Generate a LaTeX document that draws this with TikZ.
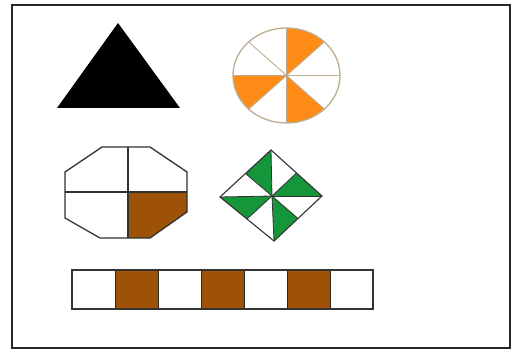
\documentclass[tikz,border=0pt]{standalone}
\usetikzlibrary{calc}
\definecolor{myorange}{RGB}{255,140,22}
\definecolor{mybrown}{RGB}{158,82,8}
\definecolor{mygreen}{RGB}{22,150,58}
\definecolor{myrim}{RGB}{190,172,145}
\definecolor{myline}{RGB}{50,50,50}
\tikzset{
  shapeline/.style={draw=myline,line width=1.3pt,line join=miter},
  thinline/.style={draw=myline,line width=0.9pt}
}
\begin{document}
\begin{tikzpicture}[x=1pt,y=1pt]
\useasboundingbox (0,0) rectangle (515,349);
\fill[white] (0,0) rectangle (515,349);
% frame
\draw[line width=1.3pt,draw=black!85] (12,1) rectangle (510,344);
% triangle
\fill[black] (118,326) -- (180,241) -- (57,241) -- cycle;
% circle
\coordinate (cc) at (286.5,273.5);
\fill[myorange] (cc) -- ++(45:53.5 and 47.5) arc[start angle=45,end angle=90,x radius=53.5,y radius=47.5] -- cycle;
\fill[myorange] (cc) -- ++(180:53.5 and 47.5) arc[start angle=180,end angle=225,x radius=53.5,y radius=47.5] -- cycle;
\fill[myorange] (cc) -- ++(270:53.5 and 47.5) arc[start angle=270,end angle=315,x radius=53.5,y radius=47.5] -- cycle;
\foreach \a in {0,45,90,135}{
  \draw[myrim,line width=0.9pt] ($(cc)+(\a:53.5 and 47.5)$) -- ($(cc)+(\a+180:53.5 and 47.5)$);
}
\draw[myrim,line width=1.3pt] (cc) ellipse[x radius=53.5,y radius=47.5];
% octagon
\fill[mybrown] (128,157) -- (187,157) -- (187,137) -- (150,111) -- (128,111) -- cycle;
\draw[thinline,line width=1.1pt] (128,202) -- (128,111);
\draw[thinline,line width=1.1pt] (65,157) -- (187,157);
\draw[shapeline] (102,202) -- (150,202) -- (187,177) -- (187,137) -- (150,111) -- (100,111) -- (65,131) -- (65,177) -- cycle;
% diamond
\coordinate (dT) at (271,199);
\coordinate (dR) at (322,153);
\coordinate (dB) at (274,108);
\coordinate (dL) at (220,152);
\coordinate (dC) at (272,153);
\coordinate (mTR) at ($(dT)!0.5!(dR)$);
\coordinate (mBR) at ($(dR)!0.5!(dB)$);
\coordinate (mBL) at ($(dB)!0.5!(dL)$);
\coordinate (mTL) at ($(dL)!0.5!(dT)$);
\fill[mygreen] (dC) -- (mTL) -- (dT) -- cycle;
\fill[mygreen] (dC) -- (mTR) -- (dR) -- cycle;
\fill[mygreen] (dC) -- (mBR) -- (dB) -- cycle;
\fill[mygreen] (dC) -- (mBL) -- (dL) -- cycle;
\foreach \p in {dT,dR,dB,dL,mTR,mBR,mBL,mTL}{
  \draw[thinline,line width=0.8pt] (dC) -- (\p);
}
\draw[shapeline,line width=1.1pt] (dT) -- (dR) -- (dB) -- (dL) -- cycle;
% bar
\foreach \i in {1,3,5}{
  \fill[mybrown] (72+\i*43,40) rectangle (72+\i*43+43,79);
}
\foreach \i in {1,...,6}{
  \draw[thinline,draw=black!85,line width=1pt] (72+\i*43,40) -- (72+\i*43,79);
}
\draw[shapeline,draw=black!80] (72,40) rectangle (373,79);
\end{tikzpicture}
\end{document}
